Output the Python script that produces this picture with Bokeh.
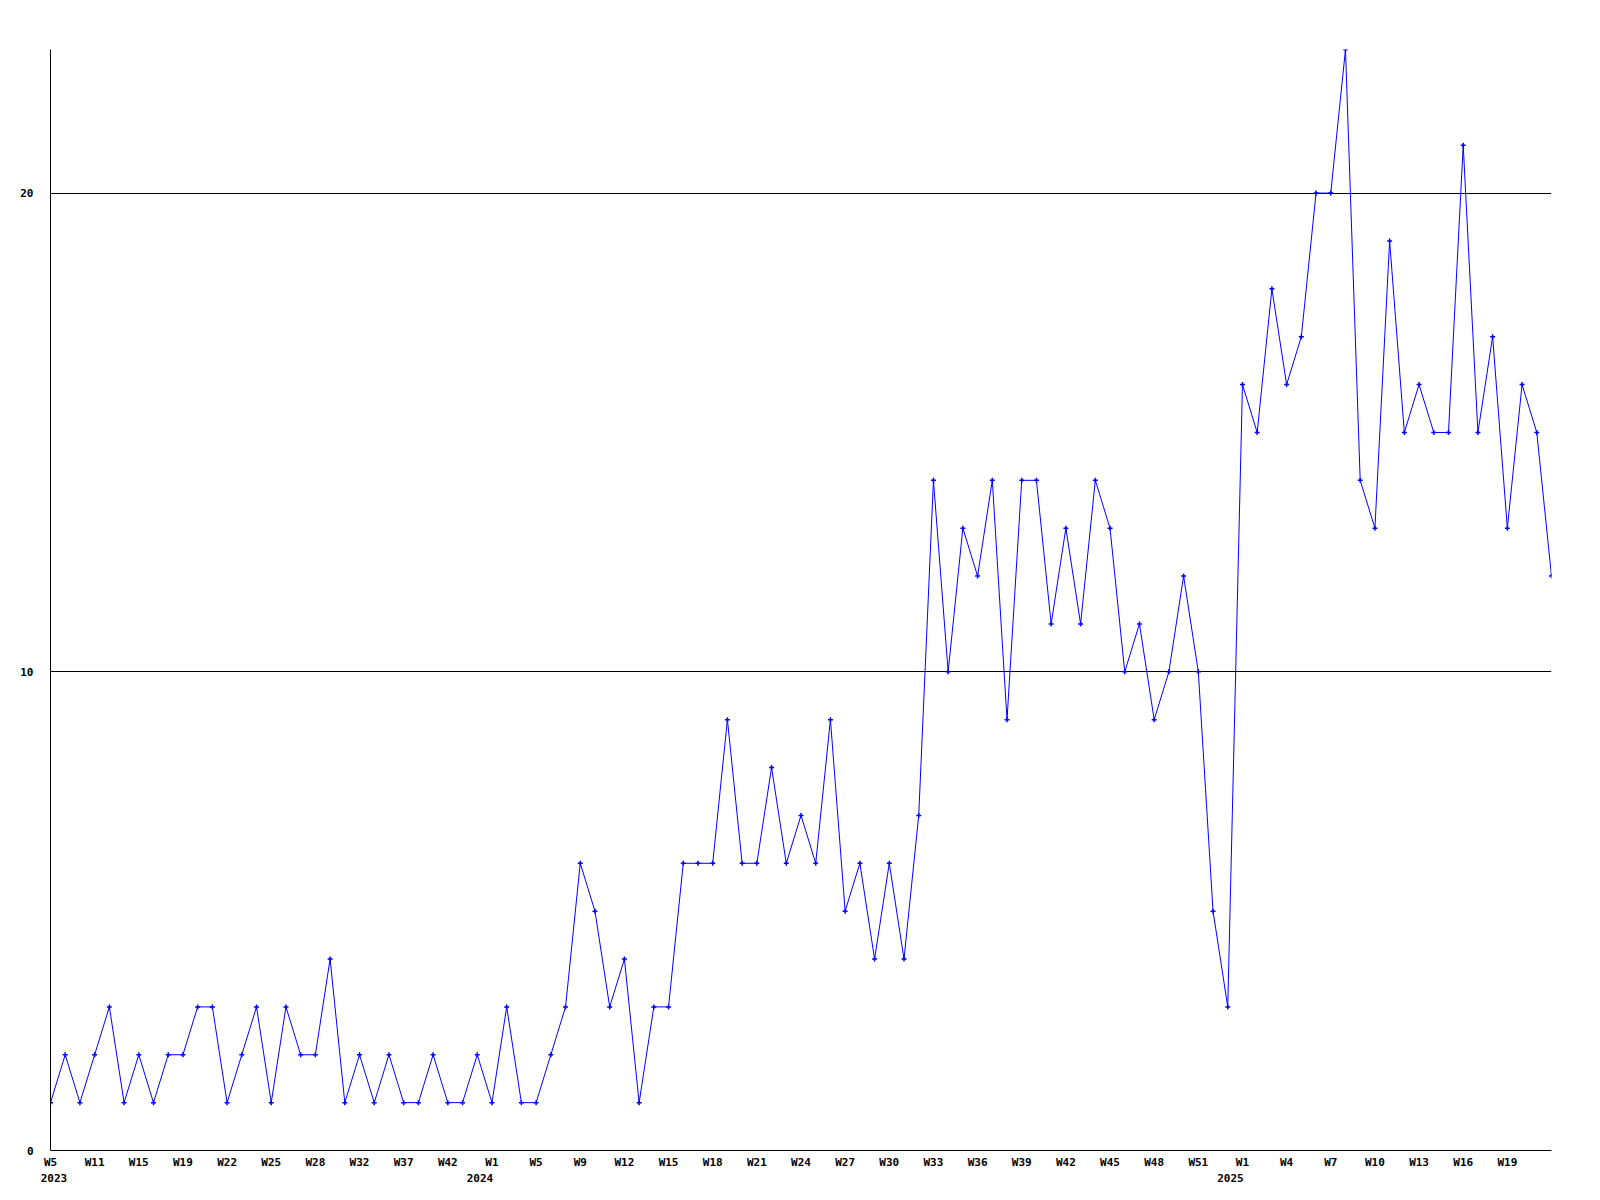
from bokeh.plotting import figure
from bokeh.models import FixedTicker, LinearAxis, Range1d, ColumnDataSource
from bokeh.embed import file_html
from bokeh.resources import INLINE

# weekly counts, one per point (2023 W5 ... 2025)
VALUES = [1, 2, 1, 2, 3, 1, 2, 1, 2, 2, 3, 3, 1, 2, 3, 1, 3, 2, 2, 4,
          1, 2, 1, 2, 1, 1, 2, 1, 1, 2, 1, 3, 1, 1, 2, 3, 6, 5, 3, 4,
          1, 3, 3, 6, 6, 6, 9, 6, 6, 8, 6, 7, 6, 9, 5, 6, 4, 6, 4, 7,
          14, 10, 13, 12, 14, 9, 14, 14, 11, 13, 11, 14, 13, 10, 11, 9, 10, 12, 10, 5,
          3, 16, 15, 18, 16, 17, 20, 20, 23, 14, 13, 19, 15, 16, 15, 15, 21, 15, 17, 13,
          16, 15, 12]

# labels shown on every third point
TICK_LABELS = ["W5", "W11", "W15", "W19", "W22", "W25", "W28", "W32", "W37", "W42",
               "W1", "W5", "W9", "W12", "W15", "W18", "W21", "W24", "W27", "W30",
               "W33", "W36", "W39", "W42", "W45", "W48", "W51",
               "W1", "W4", "W7", "W10", "W13", "W16", "W19"]
TICK_STEP = 3

# year labels and the point index where each year starts
YEARS = ["2023", "2024", "2025"]
YEAR_START = [0, 30, 81]

Y_TICKS = [0, 10, 20]
GRID_LINES = [10, 20]

FONT = "DejaVu Sans Mono"
FS = "11px"

n = len(VALUES)
xs = list(range(n))
src = ColumnDataSource(dict(x=xs, y=VALUES))

W, H = 1592, 1192
BL, BR, BT, BB = 50, 41, 49, 42

p = figure(width=W, height=H, output_backend="svg", toolbar_location=None,
           x_range=Range1d(0, n - 1), y_range=Range1d(0, max(VALUES)),
           min_border_left=BL, min_border_right=BR, min_border_top=BT,
           min_border_bottom=BB, background_fill_color="white",
           border_fill_color="white")
p.outline_line_color = None
p.xgrid.visible = False
p.ygrid.ticker = FixedTicker(ticks=GRID_LINES)
p.ygrid.grid_line_color = "black"
p.ygrid.grid_line_width = 1

p.line("x", "y", source=src, line_color="#0000ff", line_width=1)
p.scatter("x", "y", source=src, marker="cross", size=5, line_width=1.5,
          line_color="#0000ff")

# x axis: week labels
tick_idx = [i * TICK_STEP for i in range(len(TICK_LABELS))]
xa = p.xaxis[0]
xa.ticker = FixedTicker(ticks=tick_idx)
xa.major_label_overrides = {t: lab for t, lab in zip(tick_idx, TICK_LABELS)}
xa.major_tick_in = 0
xa.major_tick_out = 0
xa.minor_tick_line_color = None
xa.axis_line_color = "black"
xa.major_label_standoff = 5
xa.major_label_text_font = FONT
xa.major_label_text_font_size = FS
xa.major_label_text_font_style = "bold"
xa.major_label_text_color = "black"

# year labels: second axis below; label ends just right of the year's first week
plot_w = W - BL - BR
px_per = plot_w / (n - 1)
label_w = 27.0
year_pos = []
for s in YEAR_START:
    c = s * px_per + 1.5 - label_w / 2
    c = max(c, -10 + label_w / 2)
    year_pos.append(round(c / px_per, 3))
ya2 = LinearAxis(ticker=FixedTicker(ticks=year_pos),
                 major_label_overrides={pp: y for pp, y in zip(year_pos, YEARS)})
ya2.axis_line_color = None
ya2.major_tick_line_color = None
ya2.minor_tick_line_color = None
ya2.major_tick_in = 0
ya2.major_tick_out = 0
ya2.major_label_standoff = 2
ya2.major_label_text_font = FONT
ya2.major_label_text_font_size = FS
ya2.major_label_text_font_style = "bold"
ya2.major_label_text_color = "black"
p.add_layout(ya2, "below")

# y axis
yax = p.yaxis[0]
yax.ticker = FixedTicker(ticks=Y_TICKS)
yax.major_tick_in = 0
yax.major_tick_out = 0
yax.minor_tick_line_color = None
yax.axis_line_color = "black"
yax.major_label_standoff = 17
yax.major_label_text_font = FONT
yax.major_label_text_font_size = FS
yax.major_label_text_font_style = "bold"
yax.major_label_text_color = "black"

open("out.html", "w").write(file_html(p, INLINE))
